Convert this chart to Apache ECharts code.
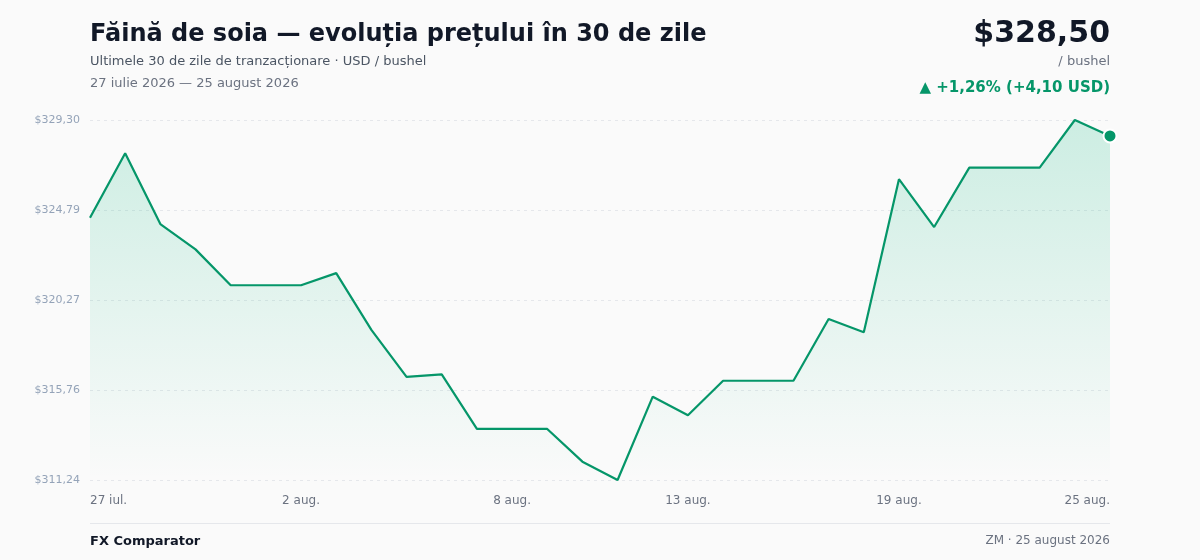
<!DOCTYPE html>
<html>
<head>
<meta charset="utf-8">
<title>Făină de soia</title>
<script src="https://cdn.jsdelivr.net/npm/echarts@6/dist/echarts.min.js"></script>
<style>
  html, body { margin: 0; padding: 0; background: #fafafa; }
  #main { width: 1200px; height: 560px; }
</style>
</head>
<body>
<div id="main"></div>
<script type="text/javascript">
// zilele (categorii axa X)
var days = [
    '27 iul.', '28 iul.', '29 iul.', '30 iul.', '31 iul.',
    '1 aug.', '2 aug.', '3 aug.', '4 aug.', '5 aug.', '6 aug.', '7 aug.', '8 aug.',
    '9 aug.', '10 aug.', '11 aug.', '12 aug.', '13 aug.', '14 aug.', '15 aug.',
    '16 aug.', '17 aug.', '18 aug.', '19 aug.', '20 aug.', '21 aug.', '22 aug.',
    '23 aug.', '24 aug.', '25 aug.'
];
// pretul pe bushel, USD
var prices = [
    324.40, 327.63, 324.08, 322.81, 321.01, 321.01, 321.01, 321.62, 318.77, 316.41,
    316.54, 313.80, 313.80, 313.80, 312.16, 311.24, 315.42, 314.49, 316.22, 316.22,
    316.22, 319.32, 318.65, 326.33, 323.93, 326.91, 326.91, 326.91, 329.30, 328.50
];
// etichete afisate
var xLabelIdx = [0, 6, 12, 17, 23, 29];
var yTickLabels = ['$311,24', '$315,76', '$320,27', '$324,79', '$329,30'];

var green = '#059669';
var font = 'DejaVu Sans';

var yMin = Math.min.apply(null, prices);
var yMax = Math.max.apply(null, prices);
var last = prices.length - 1;

var myChart = echarts.init(document.getElementById('main'));

var option = {
    backgroundColor: '#fafafa',
    textStyle: { fontFamily: font },
    title: [
        {
            text: 'Făină de soia — evoluția prețului în 30 de zile',
            left: 90, top: 23, padding: 0,
            textStyle: { fontFamily: font, fontSize: 24, fontWeight: 'bold', color: '#111827' }
        },
        {
            text: 'Ultimele 30 de zile de tranzacționare · USD / bushel',
            left: 90, top: 55, padding: 0,
            textStyle: { fontFamily: font, fontSize: 13, fontWeight: 'normal', color: '#4b5563' }
        },
        {
            text: '27 iulie 2026 — 25 august 2026',
            left: 90, top: 77, padding: 0,
            textStyle: { fontFamily: font, fontSize: 13, fontWeight: 'normal', color: '#6b7280' }
        },
        {
            text: '$328,50',
            right: 90, top: 19, padding: 0,
            textStyle: { fontFamily: font, fontSize: 30, fontWeight: 'bold', color: '#111827' }
        },
        {
            text: '/ bushel',
            right: 90, top: 55, padding: 0,
            textStyle: { fontFamily: font, fontSize: 13, fontWeight: 'normal', color: '#6b7280' }
        },
        {
            text: '▲ +1,26% (+4,10 USD)',
            right: 90, top: 81, padding: 0,
            textStyle: { fontFamily: font, fontSize: 15, fontWeight: 'bold', color: green }
        },
        {
            text: 'FX Comparator',
            left: 90, top: 535, padding: 0,
            textStyle: { fontFamily: font, fontSize: 13, fontWeight: 'bold', color: '#111827' }
        },
        {
            text: 'ZM · 25 august 2026',
            right: 90, top: 535, padding: 0,
            textStyle: { fontFamily: font, fontSize: 12, fontWeight: 'normal', color: '#6b7280' }
        }
    ],
    graphic: [
        {
            type: 'line',
            shape: { x1: 90, y1: 523.5, x2: 1110, y2: 523.5 },
            style: { stroke: '#e5e7eb', lineWidth: 1 },
            silent: true
        }
    ],
    grid: {
        left: 90,
        right: 90,
        top: 120,
        height: 360
    },
    xAxis: {
        type: 'category',
        data: days,
        boundaryGap: false,
        axisLine: { show: false },
        axisTick: { show: false },
        splitLine: { show: false },
        axisLabel: {
            interval: function (idx) { return xLabelIdx.indexOf(idx) !== -1; },
            margin: 15,
            fontSize: 12,
            color: '#6b7280',
            fontFamily: font,
            alignMinLabel: 'left',
            alignMaxLabel: 'right'
        }
    },
    yAxis: {
        type: 'value',
        min: yMin,
        max: yMax,
        interval: (yMax - yMin) / 4,
        axisLine: { show: false },
        axisTick: { show: false },
        axisLabel: {
            margin: 10,
            fontSize: 11,
            color: '#94a3b8',
            fontFamily: font,
            formatter: function (v, i) { return yTickLabels[i]; }
        },
        splitLine: {
            lineStyle: { color: '#e5e7eb', type: [3, 4], width: 1 }
        }
    },
    series: [
        {
            name: 'Preț',
            type: 'line',
            data: prices,
            symbol: 'none',
            lineStyle: { color: green, width: 2.2 },
            areaStyle: {
                color: new echarts.graphic.LinearGradient(0, 0, 0, 1, [
                    { offset: 0, color: 'rgba(16,185,129,0.28)' },
                    { offset: 1, color: 'rgba(16,185,129,0.0)' }
                ])
            },
            markPoint: {
                symbol: 'circle',
                symbolSize: 13,
                itemStyle: { color: green, borderColor: '#ffffff', borderWidth: 2 },
                label: { show: false },
                data: [{ coord: [last, prices[last]] }]
            },
            animation: false
        }
    ]
};

myChart.setOption(option);
</script>
</body>
</html>
